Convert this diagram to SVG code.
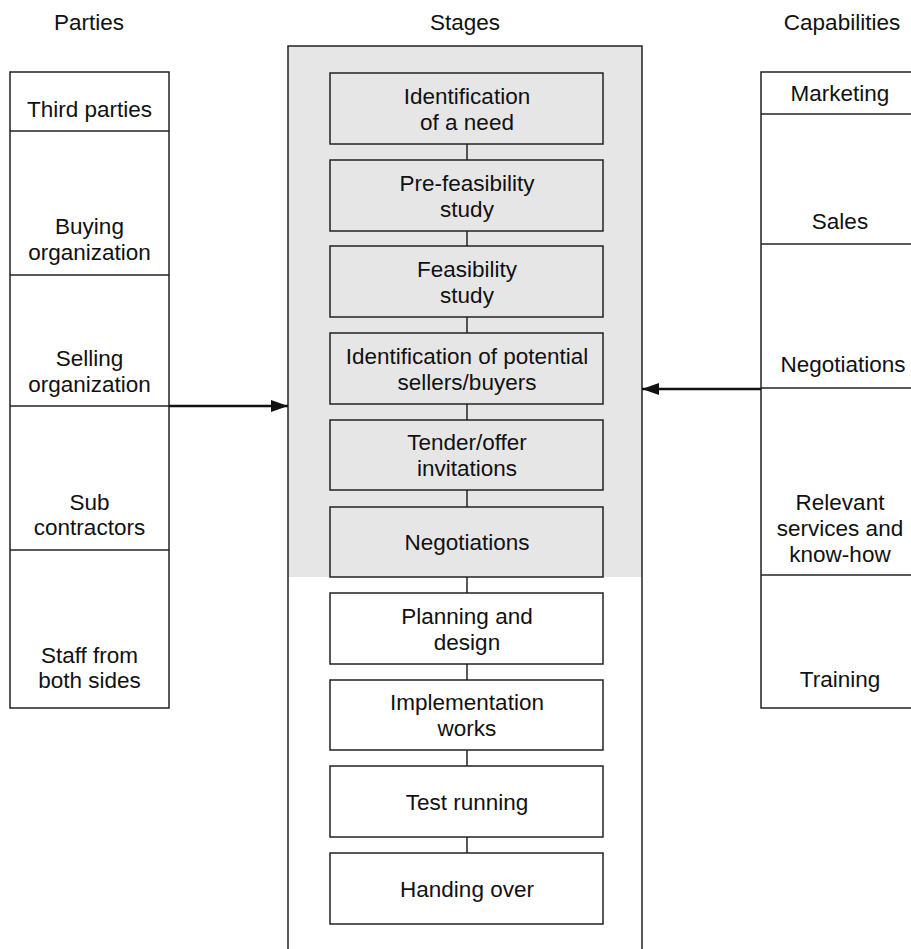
<svg xmlns="http://www.w3.org/2000/svg" width="911" height="949" viewBox="0 0 911 949">
<defs>
<style>
text{font-family:"Liberation Sans",Arial,sans-serif;font-size:22.5px;fill:#111;text-anchor:middle}
.ln{stroke:#222;stroke-width:1.5;fill:none}
.box{stroke:#222;stroke-width:1.5}
.g{fill:#e6e6e6}
.w{fill:#fff}
.arr{stroke:#111;stroke-width:2.5;fill:none}
</style>
<marker id="ah" markerWidth="18" markerHeight="14" refX="17" refY="7" orient="auto" markerUnits="userSpaceOnUse">
<path d="M0,1 L17,7 L0,13 Z" fill="#111"/>
</marker>
</defs>
<rect width="911" height="949" fill="#fff"/>

<g id="headers">
<text x="89" y="30">Parties</text>
<text x="465" y="30">Stages</text>
<text x="842" y="30">Capabilities</text>
</g>

<g id="parties">
<rect class="ln" x="10" y="72" width="159" height="636"/>
<line class="ln" x1="10" y1="131" x2="169" y2="131"/>
<line class="ln" x1="10" y1="275" x2="169" y2="275"/>
<line class="ln" x1="10" y1="406" x2="169" y2="406"/>
<line class="ln" x1="10" y1="550" x2="169" y2="550"/>
<text x="89.5" y="117">Third parties</text>
<text x="89.5" y="234">Buying</text>
<text x="89.5" y="260">organization</text>
<text x="89.5" y="366">Selling</text>
<text x="89.5" y="392">organization</text>
<text x="89.5" y="510">Sub</text>
<text x="89.5" y="535">contractors</text>
<text x="89.5" y="663">Staff from</text>
<text x="89.5" y="688">both sides</text>
</g>

<g id="capabilities">
<rect class="ln" x="761" y="72" width="160" height="636"/>
<line class="ln" x1="761" y1="114" x2="921" y2="114"/>
<line class="ln" x1="761" y1="244" x2="921" y2="244"/>
<line class="ln" x1="761" y1="388" x2="921" y2="388"/>
<line class="ln" x1="761" y1="575" x2="921" y2="575"/>
<text x="840" y="101">Marketing</text>
<text x="840" y="229">Sales</text>
<text x="843" y="372">Negotiations</text>
<text x="840" y="510">Relevant</text>
<text x="840" y="536">services and</text>
<text x="840" y="562">know-how</text>
<text x="840" y="687">Training</text>
</g>

<g id="stages-frame">
<rect class="g" x="288" y="46" width="354" height="531"/>
<path class="ln" d="M288,949 L288,46 L642,46 L642,949"/>
</g>

<g id="connectors">
<line class="ln" x1="467" y1="144" x2="467" y2="160"/>
<line class="ln" x1="467" y1="231" x2="467" y2="246"/>
<line class="ln" x1="467" y1="317" x2="467" y2="333"/>
<line class="ln" x1="467" y1="404" x2="467" y2="420"/>
<line class="ln" x1="467" y1="490" x2="467" y2="507"/>
<line class="ln" x1="467" y1="577" x2="467" y2="593"/>
<line class="ln" x1="467" y1="664" x2="467" y2="680"/>
<line class="ln" x1="467" y1="750" x2="467" y2="766"/>
<line class="ln" x1="467" y1="837" x2="467" y2="853"/>
<line class="arr" x1="169" y1="406" x2="288" y2="406" marker-end="url(#ah)"/>
<line class="arr" x1="761" y1="389" x2="642" y2="389" marker-end="url(#ah)"/>
</g>

<g id="s1"><rect class="box g" x="330" y="73" width="273" height="71"/><text x="467" y="104">Identification</text><text x="467" y="130">of a need</text></g>
<g id="s2"><rect class="box g" x="330" y="160" width="273" height="71"/><text x="467" y="191">Pre-feasibility</text><text x="467" y="217">study</text></g>
<g id="s3"><rect class="box g" x="330" y="246" width="273" height="71"/><text x="467" y="277">Feasibility</text><text x="467" y="303">study</text></g>
<g id="s4"><rect class="box g" x="330" y="333" width="273" height="71"/><text x="467" y="364">Identification of potential</text><text x="467" y="390">sellers/buyers</text></g>
<g id="s5"><rect class="box g" x="330" y="420" width="273" height="70"/><text x="467" y="450">Tender/offer</text><text x="467" y="476">invitations</text></g>
<g id="s6"><rect class="box g" x="330" y="507" width="273" height="70"/><text x="467" y="550">Negotiations</text></g>
<g id="s7"><rect class="box w" x="330" y="593" width="273" height="71"/><text x="467" y="624">Planning and</text><text x="467" y="650">design</text></g>
<g id="s8"><rect class="box w" x="330" y="680" width="273" height="70"/><text x="467" y="710">Implementation</text><text x="467" y="736">works</text></g>
<g id="s9"><rect class="box w" x="330" y="766" width="273" height="71"/><text x="467" y="810">Test running</text></g>
<g id="s10"><rect class="box w" x="330" y="853" width="273" height="71"/><text x="467" y="897">Handing over</text></g>
</svg>
